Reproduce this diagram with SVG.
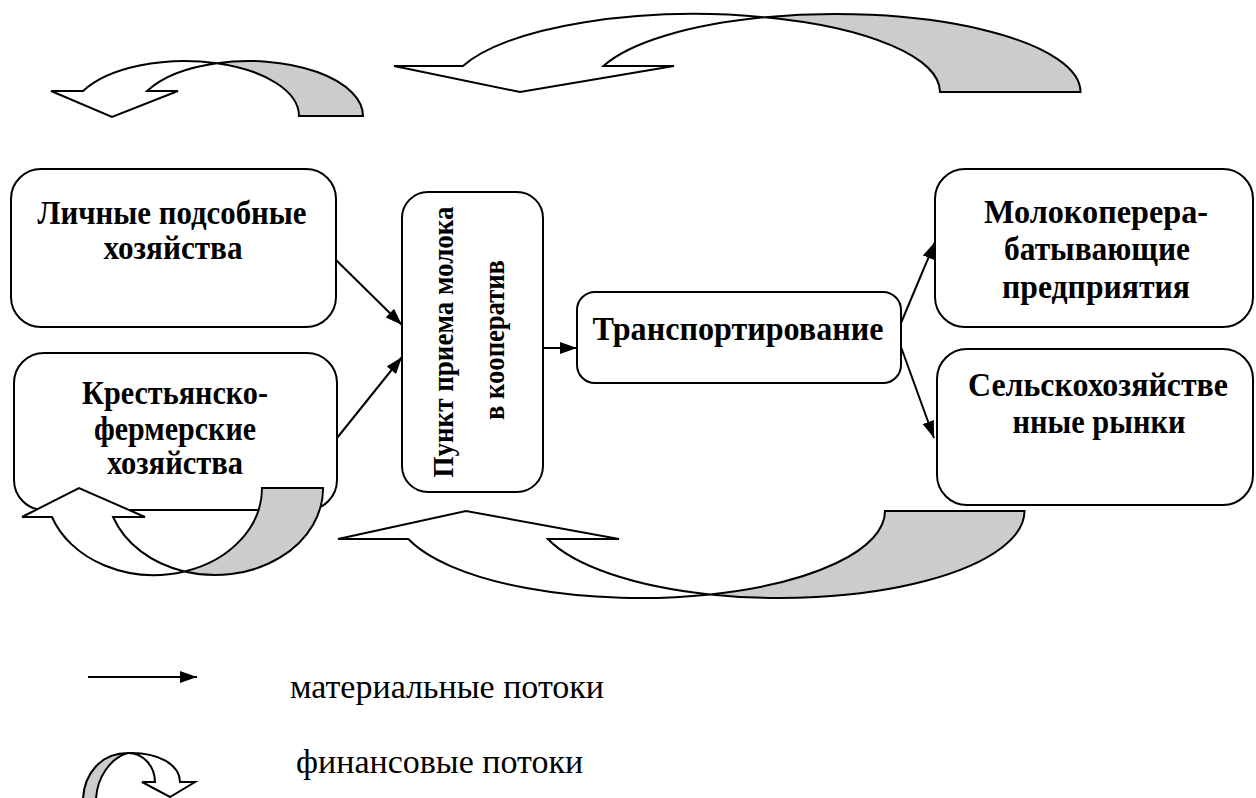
<svg xmlns="http://www.w3.org/2000/svg" width="1256" height="798" viewBox="0 0 1256 798">
<defs>
<style>
.box{fill:#fff;stroke:#000;stroke-width:2}
.t{font-family:"Liberation Serif","Times New Roman",serif;font-weight:bold;font-size:33px;fill:#000;text-anchor:middle}
.r{font-family:"Liberation Serif","Times New Roman",serif;font-weight:bold;font-size:29px;fill:#000;text-anchor:middle}
.lg{font-family:"Liberation Serif","Times New Roman",serif;font-size:34px;fill:#000}
.ln{fill:none;stroke:#000;stroke-width:2}
.w{fill:#fff;stroke:#000;stroke-width:2;stroke-linejoin:miter}
.g{fill:#cccccc;stroke:#000;stroke-width:2}
</style>
<marker id="ahb" viewBox="0 0 10 10" refX="10" refY="5" markerWidth="17" markerHeight="12" markerUnits="userSpaceOnUse" orient="auto" preserveAspectRatio="none">
<path d="M0,0 L10,5 L0,10 Z" fill="#000"/>
</marker>
</defs>
<rect width="1256" height="798" fill="#fff"/>

<g id="node-lph">
<rect class="box" x="11" y="169" width="325" height="158" rx="30"/>
<text class="t" x="172" y="224" textLength="269" lengthAdjust="spacingAndGlyphs">Личные подсобные</text>
<text class="t" x="173" y="259" textLength="139" lengthAdjust="spacingAndGlyphs">хозяйства</text>
</g>
<g id="node-kfh">
<rect class="box" x="14" y="353" width="323" height="157" rx="30"/>
<text class="t" x="175" y="404" textLength="186" lengthAdjust="spacingAndGlyphs">Крестьянско-</text>
<text class="t" x="175" y="440" textLength="162" lengthAdjust="spacingAndGlyphs">фермерские</text>
<text class="t" x="175" y="474" textLength="136" lengthAdjust="spacingAndGlyphs">хозяйства</text>
</g>
<g id="node-punkt">
<rect class="box" x="402" y="192" width="141" height="300" rx="26"/>
<text class="r" transform="translate(453,342) rotate(-90)" textLength="271" lengthAdjust="spacingAndGlyphs">Пункт приема молока</text>
<text class="r" transform="translate(504,340) rotate(-90)" textLength="160" lengthAdjust="spacingAndGlyphs">в кооператив</text>
</g>
<g id="node-trans">
<rect class="box" x="577" y="292" width="324" height="91" rx="18"/>
<text class="t" x="738" y="340" textLength="291" lengthAdjust="spacingAndGlyphs">Транспортирование</text>
</g>
<g id="node-moloko">
<rect class="box" x="935" y="169" width="318" height="158" rx="30"/>
<text class="t" x="1096" y="223" textLength="224" lengthAdjust="spacingAndGlyphs">Молокоперера-</text>
<text class="t" x="1097" y="260" textLength="186" lengthAdjust="spacingAndGlyphs">батывающие</text>
<text class="t" x="1096" y="298" textLength="188" lengthAdjust="spacingAndGlyphs">предприятия</text>
</g>
<g id="node-rynki">
<rect class="box" x="937" y="349" width="316" height="156" rx="30"/>
<text class="t" x="1098" y="396" textLength="260" lengthAdjust="spacingAndGlyphs">Сельскохозяйстве</text>
<text class="t" x="1099" y="433" textLength="173" lengthAdjust="spacingAndGlyphs">нные рынки</text>
</g>

<g id="connectors">
<line class="ln" x1="336" y1="260" x2="402" y2="325" marker-end="url(#ahb)"/>
<line class="ln" x1="337" y1="438" x2="402" y2="357" marker-end="url(#ahb)"/>
<line class="ln" x1="543" y1="348" x2="577" y2="348" marker-end="url(#ahb)"/>
<line class="ln" x1="901" y1="323" x2="935" y2="242" marker-end="url(#ahb)"/>
<line class="ln" x1="901" y1="347" x2="934" y2="438" marker-end="url(#ahb)"/>
</g>

<g id="finance-top-left">
<path class="w" d="M51,91 L112,117 L178,91 L147.1,91 A114.2 55 0 0 1 216.8,63.2 A114.2 55 0 0 0 83.1,91 Z"/>
<path class="g" d="M216.8,63.2 A114.2 55 0 0 1 363,116 L299,116 A114.2 55 0 0 0 216.8,63.2 Z"/>
</g>
<g id="finance-top-right">
<path class="w" d="M394,66 L520,92 L674,66 L603.5,66 A245.5 78 0 0 1 764.75,17.26 A245.5 78 0 0 0 463,66 Z"/>
<path class="g" d="M764.75,17.26 A245.5 78 0 0 1 1080.5,92 L940,92 A245.5 78 0 0 0 764.75,17.26 Z"/>
</g>
<g id="finance-bottom-left">
<path class="w" d="M22,517 L79,488 L145,517 L113.1,517 A108.1 87 0 0 0 184.45,571.5 A108.1 87 0 0 1 52,517 Z"/>
<path class="g" d="M184.45,571.5 A108.1 87 0 0 0 323.1,488 L262,488 A108.1 87 0 0 1 184.45,571.5 Z"/>
</g>
<g id="finance-bottom">
<path class="w" d="M338,539 L466,511 L619,539 L547.9,539 A244.8 87 0 0 0 710,594.4 A244.8 87 0 0 1 408.4,539 Z"/>
<path class="g" d="M710,594.4 A244.8 87 0 0 0 1024.5,511 L885,511 A244.8 87 0 0 1 710,594.4 Z"/>
</g>

<g id="legend">
<line class="ln" x1="88" y1="677" x2="197" y2="677" marker-end="url(#ahb)"/>
<text class="lg" x="290" y="698">материальные потоки</text>
<path class="w" d="M155,782 C155,766 143,753 128,753 C157,752 180,764 180,782 L195,782 L170,797 L142,782 Z"/>
<path class="g" d="M128,753 C100,753 84,775 83,799 L96,799 C97,778 110,758 128,753 Z"/>
<text class="lg" x="296" y="773">финансовые потоки</text>
</g>
</svg>
